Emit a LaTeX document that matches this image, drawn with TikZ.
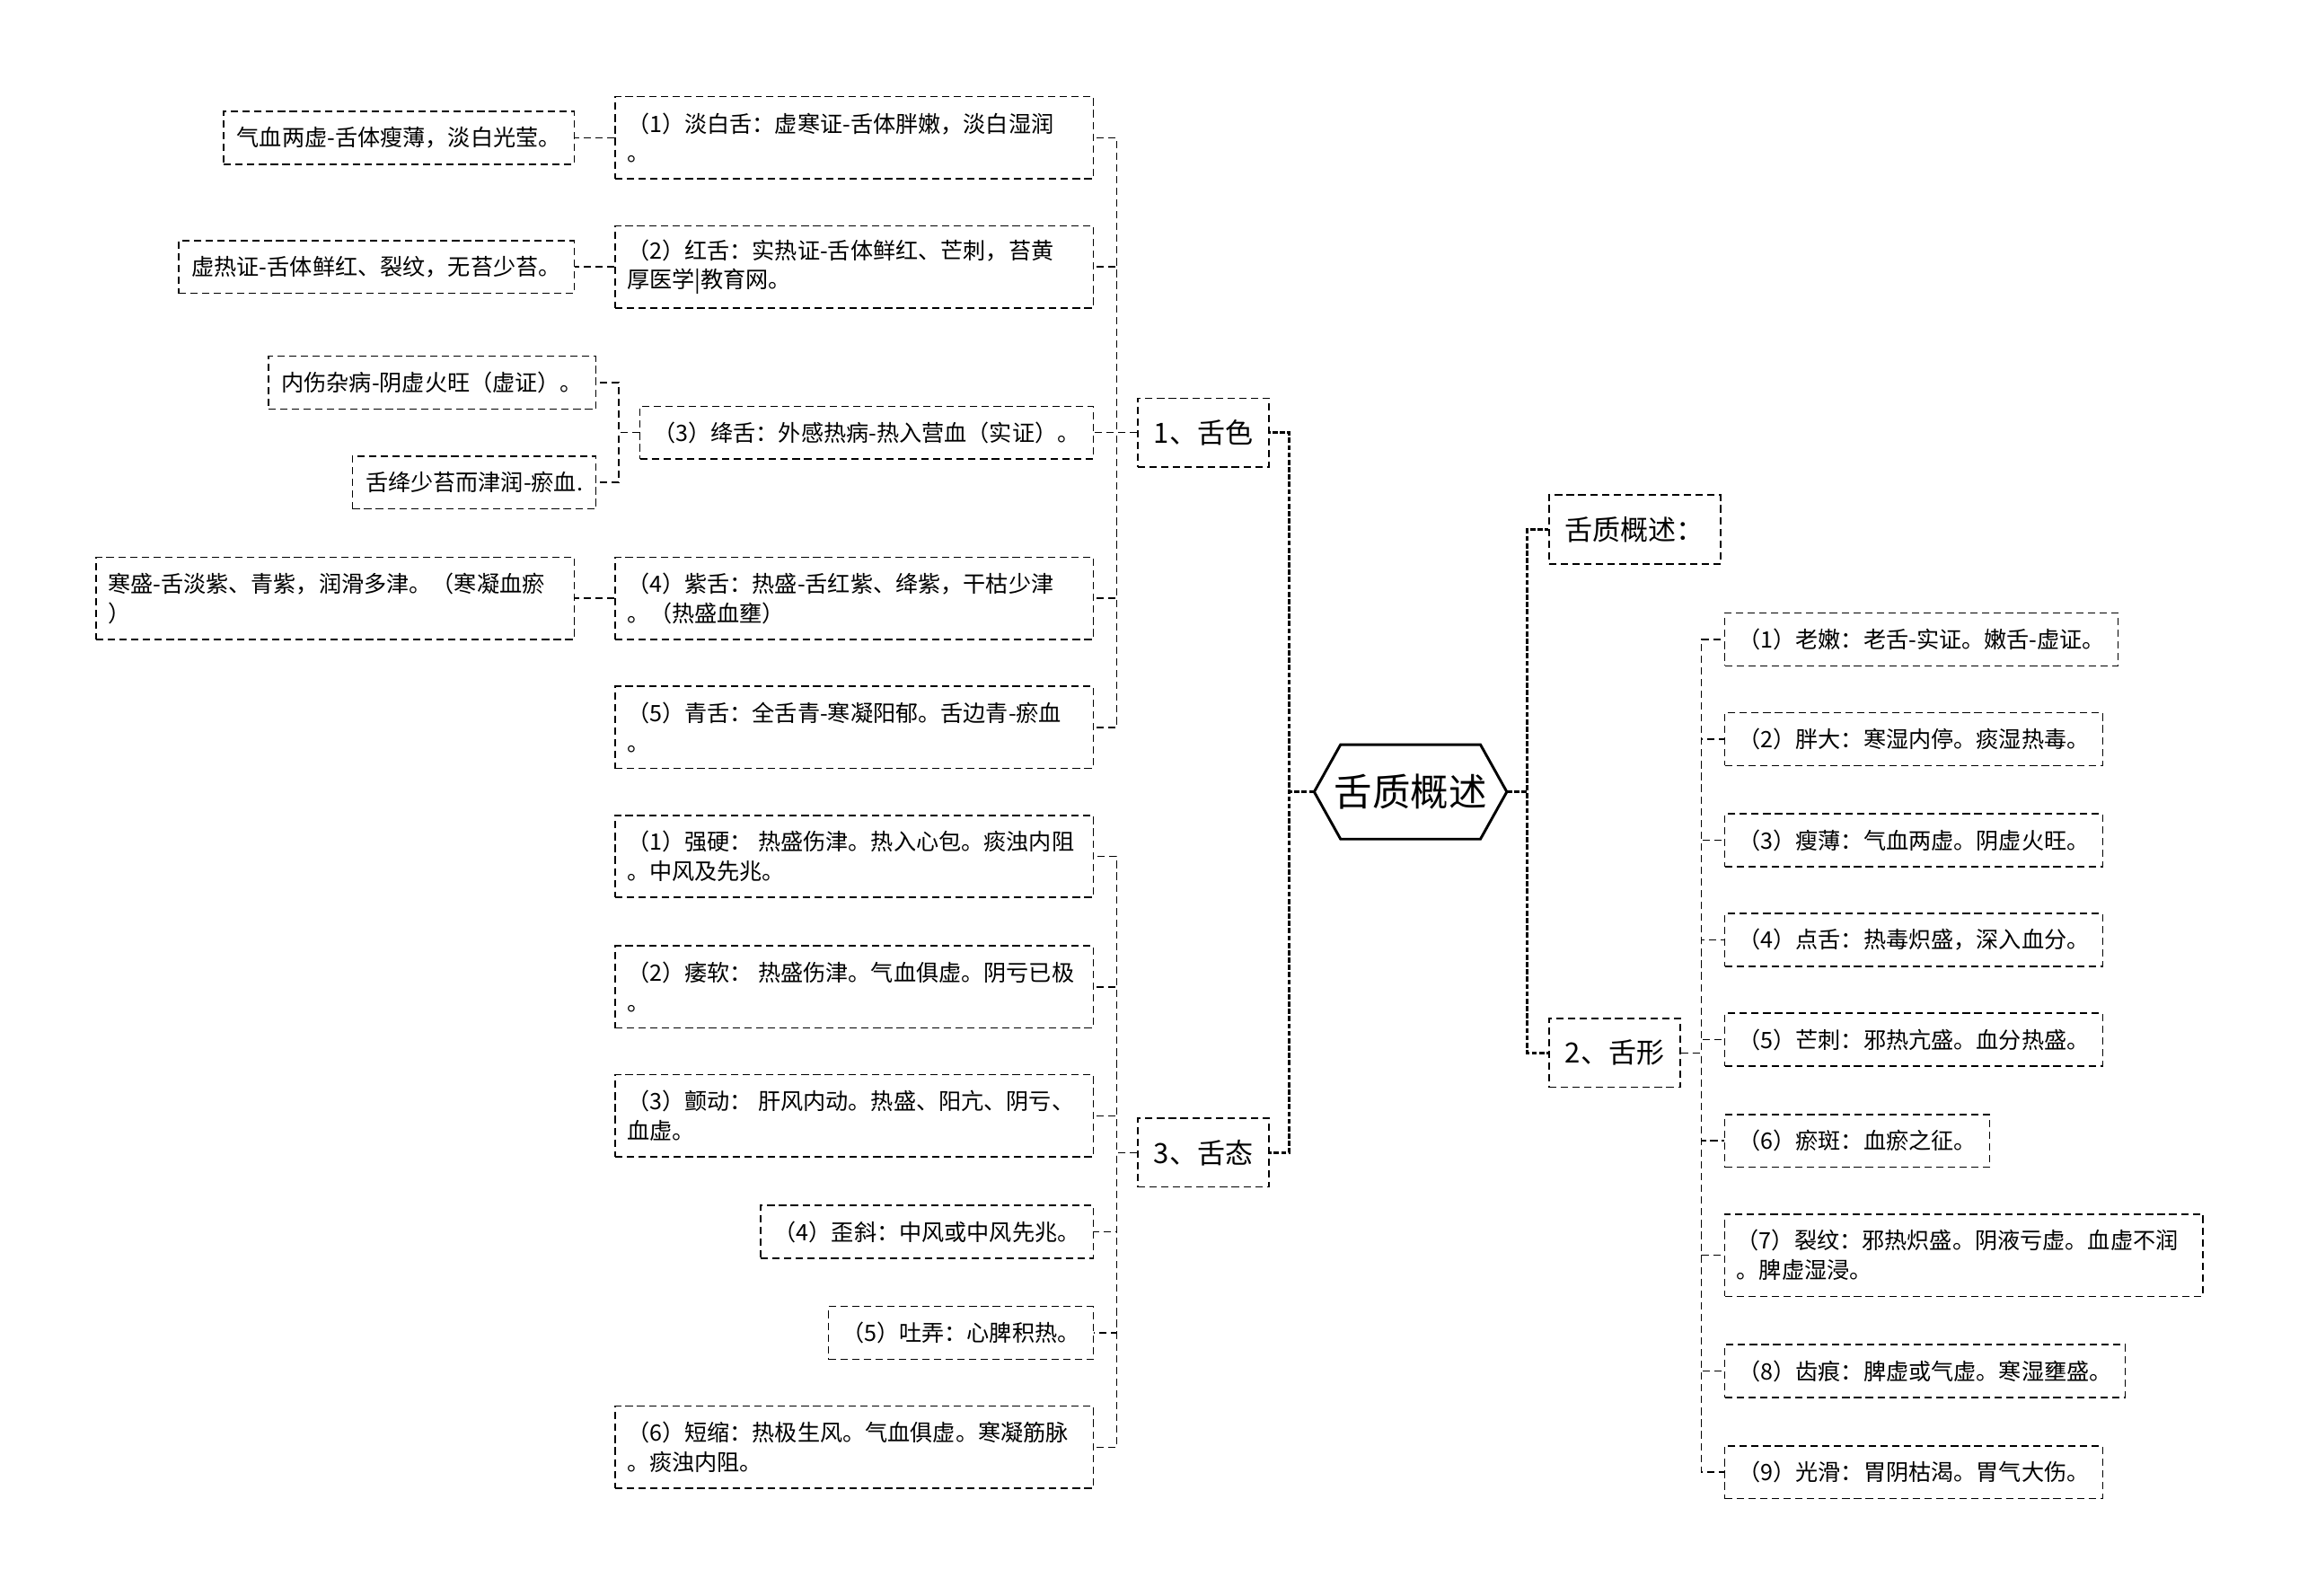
\documentclass[tikz,border=0pt]{standalone}
\usepackage{fontspec}
\setmainfont{Noto Sans CJK SC}
\begin{document}
\begin{tikzpicture}[x=1pt, y=-1pt,
	box/.style={draw, dash pattern=on 5pt off 3pt, line width=0.9pt, inner xsep=9pt, inner ysep=3pt, minimum height=36pt, align=left, font=\fontsize{15.4}{20}\selectfont},
	wbox/.style={box, inner xsep=8pt, text width=310pt, minimum height=56pt},
	topic/.style={draw, dash pattern=on 5pt off 3pt, line width=0.9pt, inner xsep=11pt, minimum height=47pt, font=\fontsize{19}{23}\selectfont},
	link/.style={dash pattern=on 5pt off 3pt, line width=0.9pt},
	trunk/.style={dash pattern=on 3.5pt off 1.5pt, line width=2pt}]
	\useasboundingbox (0,0) rectangle (1568,1088);
	\node[minimum width=131pt, minimum height=64pt, font=\fontsize{26}{30}\selectfont] (root) at (962,540) {舌质概述};
	\draw[line width=1.8pt] (root.west) -- ([xshift=18pt]root.north west) -- ([xshift=-18pt]root.north east) -- (root.east) -- ([xshift=-18pt]root.south east) -- ([xshift=18pt]root.south west) -- cycle;
	\node[topic, anchor=east] (se) at (866,295) {1、舌色};
	\node[topic, anchor=east] (tai) at (866,786) {3、舌态};
	\node[topic, anchor=west] (gai) at (1056,361) {舌质概述：};
	\node[topic, anchor=west] (xing) at (1056,718) {2、舌形};
	\draw[trunk] (root.west) -- ++(-17,0) |- (se.east);
	\draw[trunk] (root.west) -- ++(-17,0) |- (tai.east);
	\draw[trunk] (root.east) -- ++(14,0) |- (gai.west);
	\draw[trunk] (root.east) -- ++(14,0) |- (xing.west);

	\node[wbox, anchor=east] (se1) at (746,94) {（1）淡白舌：虚寒证-舌体胖嫩，淡白湿润\\。};
	\node[wbox, anchor=east] (se2) at (746,182) {（2）红舌：实热证-舌体鲜红、芒刺，苔黄\\厚医学|教育网。};
	\node[box, anchor=east] (se3) at (746,295) {（3）绛舌：外感热病-热入营血（实证）。};
	\node[wbox, anchor=east] (se4) at (746,408) {（4）紫舌：热盛-舌红紫、绛紫，干枯少津\\。（热盛血壅）};
	\node[wbox, anchor=east] (se5) at (746,496) {（5）青舌：全舌青-寒凝阳郁。舌边青-瘀血\\。};
	\foreach \i in {1,...,5}
		\draw[link] (se.west) -- ++(-14,0) |- (se\i.east);

	\node[box, anchor=east] (se1a) at (392,94) {气血两虚-舌体瘦薄，淡白光莹。};
	\node[box, anchor=east] (se2a) at (392,182) {虚热证-舌体鲜红、裂纹，无苔少苔。};
	\node[box, anchor=east] (se3a) at (407,261) {内伤杂病-阴虚火旺（虚证）。};
	\node[box, anchor=east] (se3b) at (407,329) {舌绛少苔而津润-瘀血.};
	\node[wbox, anchor=east] (se4a) at (392,408) {寒盛-舌淡紫、青紫，润滑多津。（寒凝血瘀\\）};
	\draw[link] (se1.west) -- (se1a.east);
	\draw[link] (se2.west) -- (se2a.east);
	\draw[link] (se3.west) -- ++(-14,0) |- (se3a.east);
	\draw[link] (se3.west) -- ++(-14,0) |- (se3b.east);
	\draw[link] (se4.west) -- (se4a.east);

	\node[wbox, anchor=east] (tai1) at (746,584) {（1）强硬：\kern4pt热盛伤津。热入心包。痰浊内阻\\。中风及先兆。};
	\node[wbox, anchor=east] (tai2) at (746,673) {（2）痿软：\kern4pt热盛伤津。气血俱虚。阴亏已极\\。};
	\node[wbox, anchor=east] (tai3) at (746,761) {（3）颤动：\kern4pt肝风内动。热盛、阳亢、阴亏、\\血虚。};
	\node[box, anchor=east] (tai4) at (746,840) {（4）歪斜：中风或中风先兆。};
	\node[box, anchor=east] (tai5) at (746,909) {（5）吐弄：心脾积热。};
	\node[wbox, anchor=east] (tai6) at (746,987) {（6）短缩：热极生风。气血俱虚。寒凝筋脉\\。痰浊内阻。};
	\foreach \i in {1,...,6}
		\draw[link] (tai.west) -- ++(-14,0) |- (tai\i.east);

	\node[box, anchor=west] (xing1) at (1176,436) {（1）老嫩：老舌-实证。嫩舌-虚证。};
	\node[box, anchor=west] (xing2) at (1176,504) {（2）胖大：寒湿内停。痰湿热毒。};
	\node[box, anchor=west] (xing3) at (1176,573) {（3）瘦薄：气血两虚。阴虚火旺。};
	\node[box, anchor=west] (xing4) at (1176,641) {（4）点舌：热毒炽盛，深入血分。};
	\node[box, anchor=west] (xing5) at (1176,709) {（5）芒刺：邪热亢盛。血分热盛。};
	\node[box, anchor=west] (xing6) at (1176,778) {（6）瘀斑：血瘀之征。};
	\node[wbox, anchor=west] (xing7) at (1176,856) {（7）裂纹：邪热炽盛。阴液亏虚。血虚不润\\。脾虚湿浸。};
	\node[box, anchor=west] (xing8) at (1176,935) {（8）齿痕：脾虚或气虚。寒湿壅盛。};
	\node[box, anchor=west] (xing9) at (1176,1004) {（9）光滑：胃阴枯渴。胃气大伤。};
	\foreach \i in {1,...,9}
		\draw[link] (xing.east) -- ++(14,0) |- (xing\i.west);
\end{tikzpicture}
\end{document}
